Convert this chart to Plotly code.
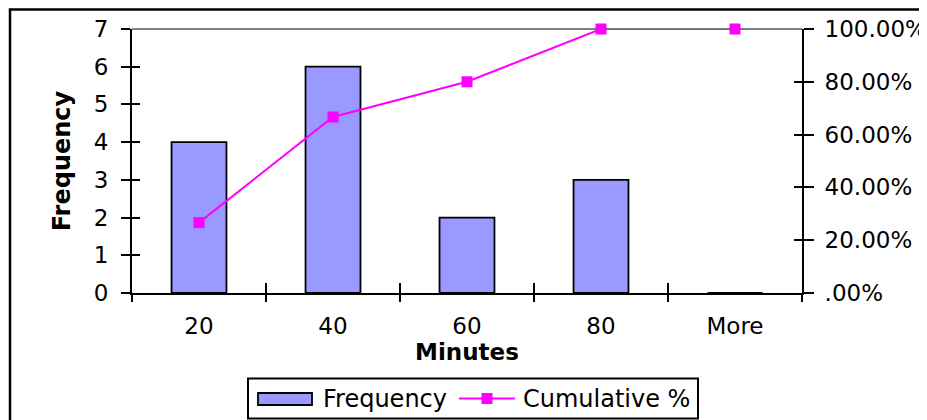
import plotly.graph_objects as go

categories = ["20", "40", "60", "80", "More"]
frequency = [4, 6, 2, 3, 0]
cumulative_pct = [0.2667, 0.6667, 0.80, 1.00, 1.00]
left_ticks = [0, 1, 2, 3, 4, 5, 6, 7]
right_tickvals = [0, 0.2, 0.4, 0.6, 0.8, 1.0]
right_ticktext = [".00%", "20.00%", "40.00%", "60.00%", "80.00%", "100.00%"]
boundaries = [-0.5, 0.5, 1.5, 2.5, 3.5, 4.5]
series_names = ["Frequency", "Cumulative %"]

FONT = "DejaVu Sans"
BAR_COLOR = "#9999FF"
LINE_COLOR = "#FF00FF"

# page body has an 8px margin: shrink the figure so it fits the 927x420 window
OFF = 8
W, H = 927 - OFF, 420 - OFF
PL, PT, PR, PB = 132, 29, 802, 293          # plot area in page pixels
PW, PH = PR - PL, PB - PT


def px(x):
    return (x - PL) / PW


def py(y):
    return (PB - y) / PH


fig = go.Figure()
fig.add_trace(go.Bar(
    x=categories, y=frequency, name=series_names[0],
    marker=dict(color=BAR_COLOR, line=dict(color="black", width=1.8)),
    width=0.41, xaxis="x", yaxis="y", showlegend=False,
))
fig.add_trace(go.Scatter(
    x=categories, y=cumulative_pct, name=series_names[1],
    mode="lines+markers", cliponaxis=False,
    line=dict(color=LINE_COLOR, width=2),
    marker=dict(symbol="square", size=11, color=LINE_COLOR),
    xaxis="x", yaxis="y2", showlegend=False,
))
# empty helper traces so the tick-only overlay axes get drawn
fig.add_trace(go.Scatter(x=[], y=[], xaxis="x2", yaxis="y3",
                         showlegend=False, hoverinfo="skip"))
fig.add_trace(go.Scatter(x=[], y=[], xaxis="x2", yaxis="y4",
                         showlegend=False, hoverinfo="skip"))

tick_font = dict(family=FONT, size=23, color="black")

shapes = [
    # grey plot-area border (top)
    dict(type="line", xref="paper", yref="paper", x0=0, x1=1, y0=1, y1=1,
         line=dict(color="#808080", width=2), layer="below"),
    # chart-area frame
    dict(type="rect", xref="paper", yref="paper", x0=px(10), x1=px(1100),
         y0=py(600), y1=py(9.5), line=dict(color="black", width=2.5),
         layer="below"),
    # legend box
    dict(type="rect", xref="paper", yref="paper", x0=px(248), x1=px(698),
         y0=py(418.5), y1=py(378.5), line=dict(color="black", width=2),
         fillcolor="white", layer="above"),
    # legend swatch: bar
    dict(type="rect", xref="paper", yref="paper", x0=px(258), x1=px(312),
         y0=py(405), y1=py(393), line=dict(color="black", width=1.8),
         fillcolor=BAR_COLOR, layer="above"),
    # legend swatch: line + marker
    dict(type="line", xref="paper", yref="paper", x0=px(459), x1=px(515),
         y0=py(398.5), y1=py(398.5), line=dict(color=LINE_COLOR, width=2),
         layer="above"),
    dict(type="rect", xref="paper", yref="paper", x0=px(481.5), x1=px(492.5),
         y0=py(404), y1=py(393), line=dict(color=LINE_COLOR, width=0),
         fillcolor=LINE_COLOR, layer="above"),
]

annotations = [
    dict(text=series_names[0], xref="paper", yref="paper", x=px(321),
         y=py(399), xanchor="left", yanchor="middle", showarrow=False,
         font=dict(family=FONT, size=24, color="black")),
    dict(text=series_names[1], xref="paper", yref="paper", x=px(521),
         y=py(399), xanchor="left", yanchor="middle", showarrow=False,
         font=dict(family=FONT, size=24, color="black")),
]

fig.update_layout(
    width=W, height=H,
    margin=dict(l=PL - OFF, r=W - (PR - OFF), t=PT - OFF, b=H - (PB - OFF),
                autoexpand=False),
    paper_bgcolor="white", plot_bgcolor="white",
    font=dict(family=FONT, color="black"),
    showlegend=False,
    xaxis=dict(
        type="category", categoryorder="array", categoryarray=categories,
        range=[-0.5, 4.5], tickson="boundaries", ticks="outside", ticklen=7,
        tickwidth=2, tickcolor="black", showline=True, linecolor="black",
        linewidth=2, showgrid=False, zeroline=False, tickfont=tick_font,
        ticklabelstandoff=11, automargin=False,
        title=dict(text="<b>Minutes</b>", font=dict(family=FONT, size=23),
                   standoff=4),
    ),
    xaxis2=dict(
        overlaying="x", range=[-0.5, 4.5], tickmode="array", tickvals=boundaries,
        ticks="inside", ticklen=10, tickwidth=2, tickcolor="black",
        showticklabels=False, showline=False, showgrid=False, zeroline=False,
        automargin=False,
    ),
    yaxis=dict(
        range=[0, 7], tickmode="array", tickvals=left_ticks, ticks="outside",
        ticklen=9, tickwidth=2, tickcolor="black", showline=True,
        linecolor="black", linewidth=2, showgrid=False, zeroline=False,
        tickfont=tick_font, ticklabelstandoff=8, automargin=False,
        title=dict(text="<b>Frequency</b>", font=dict(family=FONT, size=24),
                   standoff=16),
    ),
    yaxis2=dict(
        range=[0, 1], overlaying="y", side="right", tickmode="array",
        tickvals=right_tickvals, ticktext=right_ticktext, ticks="outside",
        ticklen=10, tickwidth=2, tickcolor="black", showline=True,
        linecolor="black", linewidth=2, showgrid=False, zeroline=False,
        tickfont=tick_font, ticklabelstandoff=6, automargin=False,
    ),
    yaxis3=dict(
        range=[0, 7], overlaying="y", side="left", tickmode="array",
        tickvals=left_ticks, ticks="inside", ticklen=8, tickwidth=2,
        tickcolor="black", showticklabels=False, showline=False,
        showgrid=False, zeroline=False, automargin=False,
    ),
    yaxis4=dict(
        range=[0, 1], overlaying="y", side="right", tickmode="array",
        tickvals=right_tickvals, ticks="inside", ticklen=8, tickwidth=2,
        tickcolor="black", showticklabels=False, showline=False,
        showgrid=False, zeroline=False, automargin=False,
    ),
    shapes=shapes,
    annotations=annotations,
)

fig.write_html("out.html")
